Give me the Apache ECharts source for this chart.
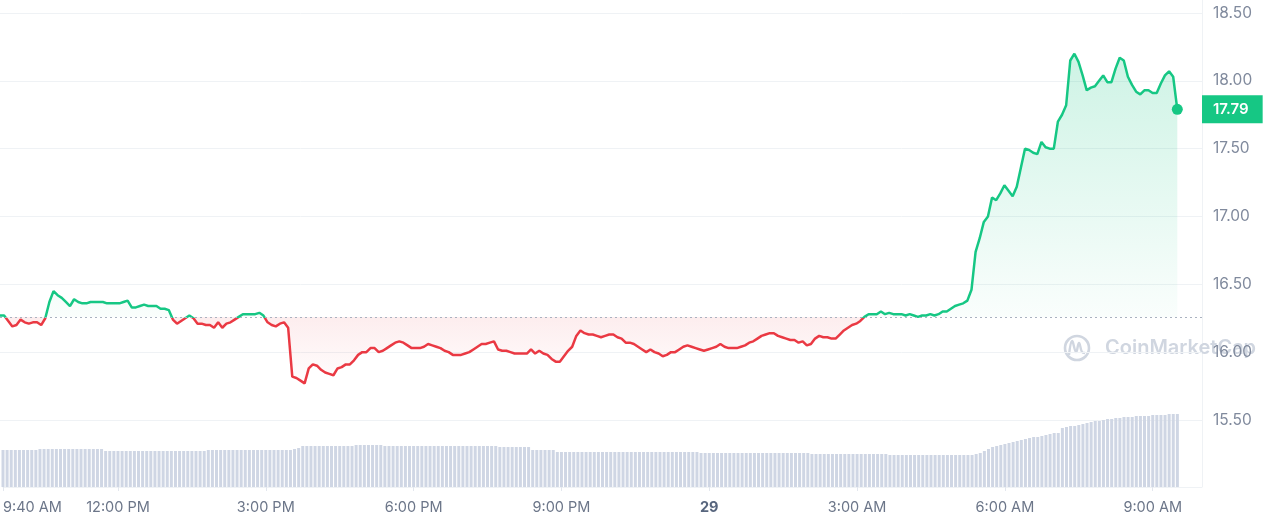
<!DOCTYPE html>
<html>
<head>
<meta charset="utf-8">
<script src="https://cdn.jsdelivr.net/npm/echarts@6/dist/echarts.min.js"></script>
<style>
html,body{margin:0;padding:0;background:#fff;}
#chart{width:1265px;height:522px;}
</style>
</head>
<body>
<div id="chart"></div>
<script>
// ---- data ----
const startLabel = '9:40 AM';
const stepMinutes = 5;
const categoryCount = 293;
const tickLabels = ['9:40 AM','12:00 PM','3:00 PM','6:00 PM','9:00 PM','12:00 AM','3:00 AM','6:00 AM','9:00 AM'];
const dayLabels = {'12:00 AM': '29'};
const openPrice = 16.26;
const yTicks = [15.5, 18.5, 0.5]; // min, max, step

const prices = [
16.27,16.27,16.23,16.19,16.20,16.24,16.22,16.21,16.22,16.22,16.20,16.25,
16.37,16.45,16.42,16.40,16.37,16.34,16.39,16.37,16.36,16.36,16.37,16.37,
16.37,16.37,16.36,16.36,16.36,16.36,16.37,16.38,16.33,16.33,16.34,16.35,
16.34,16.34,16.34,16.32,16.32,16.31,16.24,16.21,16.23,16.25,16.27,16.25,
16.21,16.21,16.20,16.20,16.18,16.22,16.18,16.21,16.22,16.24,16.26,16.28,
16.28,16.28,16.28,16.29,16.27,16.22,16.20,16.19,16.21,16.22,16.18,15.82,
15.81,15.79,15.77,15.88,15.91,15.90,15.87,15.85,15.84,15.83,15.88,15.89,
15.91,15.91,15.94,15.98,16.00,16.00,16.03,16.03,16.00,16.01,16.03,16.05,
16.07,16.08,16.07,16.05,16.03,16.03,16.03,16.04,16.06,16.05,16.04,16.03,
16.01,16.00,15.98,15.98,15.98,15.99,16.00,16.02,16.04,16.06,16.06,16.07,
16.08,16.02,16.01,16.01,16.00,15.99,15.99,15.99,15.99,16.02,15.99,
16.01,15.99,15.98,15.95,15.93,15.93,15.97,16.01,16.04,16.12,16.16,16.14,
16.13,16.13,16.12,16.11,16.12,16.13,16.13,16.11,16.10,16.07,16.07,16.06,
16.04,16.02,16.00,16.02,16.00,15.99,15.97,15.98,16.00,16.00,16.02,16.04,
16.05,16.04,16.03,16.02,16.01,16.02,16.03,16.04,16.06,16.04,16.03,16.03,
16.03,16.04,16.05,16.07,16.08,16.10,16.12,16.13,16.14,16.14,16.12,16.11,
16.10,16.09,16.09,16.07,16.08,16.05,16.06,16.10,16.12,16.11,16.11,16.10,
16.10,16.13,16.16,16.18,16.20,16.21,16.23,16.26,16.28,16.28,16.28,16.30,
16.28,16.29,16.28,16.28,16.28,16.27,16.28,16.27,16.26,16.27,16.27,16.28,
16.27,16.28,16.30,16.30,16.32,16.34,16.35,16.36,16.38,16.46,16.74,16.84,
16.96,17.00,17.14,17.12,17.17,17.23,17.19,17.15,17.22,17.36,17.50,17.49,
17.47,17.46,17.55,17.51,17.50,17.50,17.70,17.75,17.82,18.15,18.20,18.14,
18.04,17.93,17.95,17.96,18.00,18.04,17.99,17.99,18.09,18.17,18.15,18.03,
17.97,17.92,17.90,17.93,17.93,17.91,17.91,17.98,18.04,18.07,18.03,17.79
];

const volumes = [
37,37,37,37,37,37,37,37,37,38,38,38,
38,38,38,38,38,38,38,38,38,38,38,38,
38,36,36,36,36,36,36,36,36,36,36,36,
36,36,36,36,36,36,36,36,36,36,36,36,
36,36,37,37,37,37,37,37,37,37,37,37,
37,37,37,37,37,37,37,37,37,37,37,38,
39,41,41,41,41,41,41,41,41,41,41,41,
41,41,42,42,42,42,42,42,42,41,41,41,
41,41,41,41,41,41,41,41,41,41,41,41,
41,41,41,41,41,41,41,41,41,41,41,41,
41,40,40,40,40,40,40,40,40,37,37,
37,37,37,37,35,35,35,35,35,35,35,35,
35,35,35,35,35,35,35,35,35,35,35,35,
35,35,35,35,35,35,35,35,35,35,35,35,
35,35,35,34,34,34,34,34,34,34,34,34,
34,34,34,34,34,34,34,34,34,34,34,34,
34,34,34,34,34,34,33,33,33,33,33,33,
33,33,33,33,33,33,33,33,33,33,33,33,
33,32,32,32,32,32,32,32,32,32,32,32,
32,32,32,32,32,32,32,32,32,32,33,34,
36,38,40,41,42,43,44,45,46,47,48,49,
50,50,51,52,53,54,54,59,60,61,61,62,
63,64,65,66,66,67,68,68,69,69,70,70,
70,71,71,71,71,72,72,72,72,73,73,73
];

// ---- build categories (time strings) ----
function parseTime(s){
  const m = s.match(/(\d+):(\d+) (AM|PM)/);
  let h = +m[1] % 12; if (m[3] === 'PM') h += 12;
  return h*60 + (+m[2]);
}
function fmtTime(mins){
  mins = ((mins % 1440) + 1440) % 1440;
  let h = Math.floor(mins/60), mm = mins % 60;
  const ap = h >= 12 ? 'PM' : 'AM';
  let h12 = h % 12; if (h12 === 0) h12 = 12;
  return h12 + ':' + (mm < 10 ? '0' : '') + mm + ' ' + ap;
}
const categories = [];
const startMin = parseTime(startLabel);
for (let i = 0; i < categoryCount; i++) categories.push(fmtTime(startMin + i*stepMinutes));

const GREEN = '#16c784', RED = '#ea3943';
const lastIdx = prices.length - 1;
const lastVal = prices[lastIdx];
const pMax = Math.max.apply(null, prices), pMin = Math.min.apply(null, prices);
const f = (pMax - openPrice) / (pMax - pMin);

const chart = echarts.init(document.getElementById('chart'), null, {renderer: 'canvas'});
const FONT = 'Inter, "Noto Sans", sans-serif';
const showTick = (idx, val) => tickLabels.indexOf(val) >= 0;

chart.setOption({
  animation: false,
  backgroundColor: '#ffffff',
  textStyle: {fontFamily: FONT},
  grid: [
    {left: 0, right: 63, top: 13, bottom: 102},
    {left: 0, right: 63, top: 387, bottom: 35}
  ],
  xAxis: [
    {type: 'category', gridIndex: 0, data: categories, boundaryGap: false, show: false},
    {type: 'category', gridIndex: 1, data: categories, boundaryGap: false,
     axisLine: {show: true, lineStyle: {color: '#eff2f5', width: 1}},
     axisTick: {show: true, interval: showTick, length: 4, lineStyle: {color: '#e3e7ee'}},
     axisLabel: {
       interval: showTick, margin: 13, fontSize: 14.5, color: '#6c7689', fontFamily: FONT,
       alignMinLabel: 'left',
       formatter: v => dayLabels[v] ? '{b|' + dayLabels[v] + '}' : v,
       rich: {b: {fontWeight: 700, fontSize: 14.5, color: '#58667e', fontFamily: FONT}}
     },
     splitLine: {show: false}}
  ],
  yAxis: [
    {type: 'value', gridIndex: 0, position: 'right', min: yTicks[0], max: yTicks[1], interval: yTicks[2],
     axisLine: {show: false}, axisTick: {show: false},
     axisLabel: {margin: 11, fontSize: 15.5, color: '#808a9d', fontFamily: FONT, formatter: v => v.toFixed(2)},
     splitLine: {show: true, lineStyle: {color: '#eff2f5', width: 1}}},
    {type: 'value', gridIndex: 1, min: 0, max: 100, show: false, splitLine: {show: false}}
  ],
  series: [
    {
      type: 'bar', xAxisIndex: 1, yAxisIndex: 1, data: volumes, barWidth: 3, silent: true,
      itemStyle: {color: '#cfd6e4'}, z: 1
    },
    {
      type: 'line', xAxisIndex: 0, yAxisIndex: 0, data: prices, symbol: 'none', silent: true,
      lineStyle: {width: 0},
      areaStyle: {
        origin: openPrice,
        color: new echarts.graphic.LinearGradient(0, 0, 0, 1, [
          {offset: 0, color: 'rgba(22,199,132,0.30)'},
          {offset: f, color: 'rgba(22,199,132,0.03)'},
          {offset: f, color: 'rgba(234,57,67,0.13)'},
          {offset: 1, color: 'rgba(234,57,67,0.01)'}
        ])
      },
      z: 2
    },
    {
      type: 'line', xAxisIndex: 0, yAxisIndex: 0, data: prices, symbol: 'none', silent: true,
      lineStyle: {
        width: 2.5,
        color: new echarts.graphic.LinearGradient(0, 0, 0, 1, [
          {offset: 0, color: GREEN},
          {offset: f, color: GREEN},
          {offset: f, color: RED},
          {offset: 1, color: RED}
        ])
      },
      markLine: {
        silent: true, symbol: ['none', 'none'],
        label: {show: false},
        lineStyle: {type: [2, 3], color: '#aab2c0', width: 1},
        data: [
          {yAxis: openPrice},
          {
            yAxis: lastVal,
            lineStyle: {color: 'rgba(0,0,0,0)', width: 0},
            label: {
              show: true, position: 'end', distance: 0,
              formatter: p => Number(p.value).toFixed(2),
              backgroundColor: GREEN, color: '#ffffff', fontSize: 15, fontWeight: 600,
              fontFamily: FONT, padding: [6, 14, 6, 11], lineHeight: 16
            }
          }
        ]
      },
      z: 3
    },
    {
      type: 'scatter', xAxisIndex: 0, yAxisIndex: 0, silent: true,
      data: [[lastIdx, lastVal]], symbolSize: 11, itemStyle: {color: GREEN, opacity: 1},
      z: 5
    }
  ],
  graphic: [
    {type: 'line', silent: true, z: 0, shape: {x1: 1202.5, y1: 0, x2: 1202.5, y2: 487}, style: {stroke: '#eff2f5', lineWidth: 1}},
    {type: 'group', silent: true, z: 10, children: [
      {type: 'circle', shape: {cx: 1077, cy: 348, r: 12}, style: {fill: 'none', stroke: '#d0d6e0', lineWidth: 2.6}},
      {type: 'polyline', shape: {points: [[1069,355],[1072,341],[1076,352],[1079,343],[1082,352],[1085,353]], smooth: 0.4}, style: {fill: 'none', stroke: '#d0d6e0', lineWidth: 2.4}},
      {type: 'text', x: 1105, y: 348, style: {text: 'CoinMarketCap', fill: '#d0d6e0', font: '600 20px Inter, sans-serif', textVerticalAlign: 'middle'}}
    ]}
  ]
});
</script>
</body>
</html>
